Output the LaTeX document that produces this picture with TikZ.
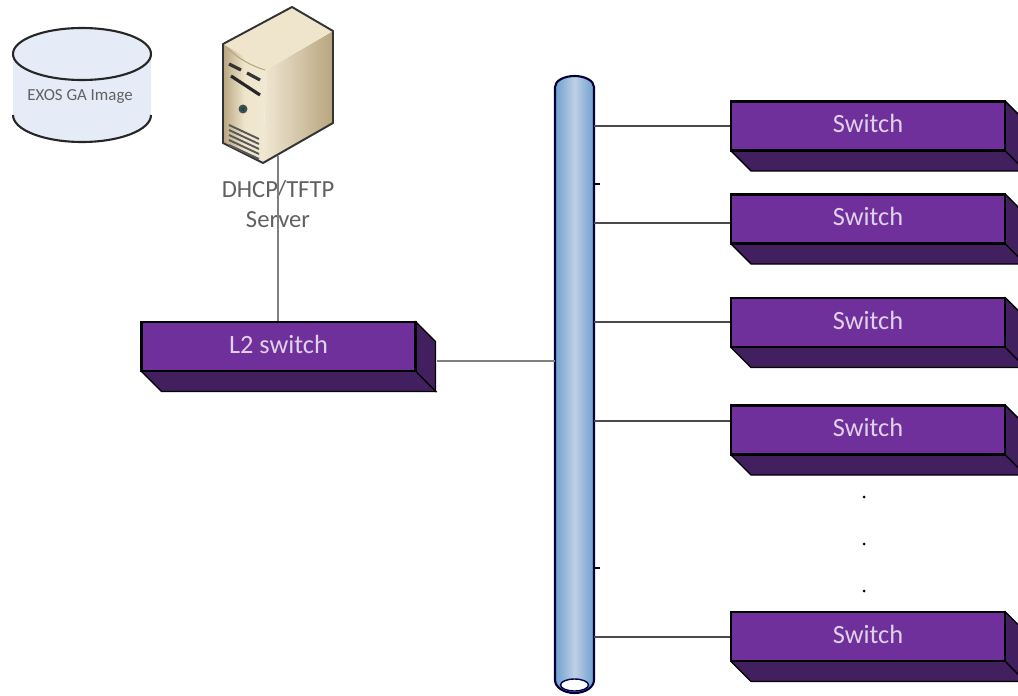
\documentclass[tikz,border=0pt]{standalone}
\usepackage{fontspec}
\setmainfont{Carlito}
\definecolor{swfront}{HTML}{70309B}
\definecolor{swdark}{HTML}{421F5E}
\definecolor{buslight}{HTML}{BFD0E6}
\definecolor{busdark}{HTML}{6E9FCF}
\definecolor{diskfill}{HTML}{E6ECF7}
\definecolor{wire}{HTML}{4A4A4A}
\definecolor{towerlight}{HTML}{F1E8D3}
\definecolor{towertop}{HTML}{EFE5CC}
\definecolor{towerdark}{HTML}{B8A57F}
\tikzset{
    swbox/.style={draw=black, line width=1.2pt, fill=swfront, text=swfront!22!white,
        minimum width=5.48cm, minimum height=0.98cm, inner sep=0pt, font=\fontsize{15}{17}\selectfont},
    swside/.style={draw=black, line width=0.8pt, fill=swdark, line join=round},
    wireline/.style={draw=wire, line width=1.2pt},
    caption/.style={text=black!62, align=center, font=\fontsize{14}{17}\selectfont}
}
% Box with its depth, drawn behind the front face
\newcommand{\swunit}[4]{
    \draw[swside] (#2 - 137, #3 + 25) -- ++(20, 20) -- ++(274, 0) -- ++(0, -50) -- (#2 + 137, #3 - 25) -- cycle;
    \node[swbox] (#1) at (#2, #3) {\raisebox{2.6pt}{#4}};
    \draw[swside] (#1.south east) -- ++(20, 20);
}
\begin{document}
\begin{tikzpicture}[x=0.02cm, y=-0.02cm]

    \clip (0, 0) rectangle (1018, 696);
    \useasboundingbox (0, 0) rectangle (1018, 696);

    % Disk
    \fill[diskfill] (13, 54) -- (13, 115) arc (180:0:69 and 27) -- (151, 54) -- cycle;
    \draw[line width=1.2pt, black!85] (13, 115) arc (180:0:69 and 27);
    \draw[line width=1.2pt, black!85, fill=diskfill] (82, 54) ellipse (69 and 26);
    \node[text=black!62, font=\fontsize{9.6}{11}\selectfont] (disk) at (80, 96) {EXOS GA Image};

    % Server tower
    \shade[left color=towerlight, right color=towerdark]
        (266, 70) -- (333, 31) -- (333, 123) -- (263, 163) -- cycle;
    \fill[towertop] (223, 44) -- (292, 7) -- (333, 31) -- (266, 70) -- cycle;
    \shade[left color=towerdark, right color=towerlight, middle color=towertop]
        (223, 44) -- (266, 70) -- (263, 163) -- (223, 143) -- cycle;
    \draw[line width=1.1pt, black!80, line join=round] (223, 44) -- (292, 7) -- (333, 31) -- (333, 123) -- (263, 163) -- (223, 143) -- cycle;
    \draw[line width=0.6pt, towerdark] (226, 47) .. controls (240, 60) and (252, 66) .. (265, 70);
    % Drive slots
    \draw[line width=1.8pt, black!80] (229, 64) -- (241, 70);
    \draw[line width=1.8pt, black!80] (247, 73) -- (260, 80);
    \draw[line width=1.8pt, black!85] (231, 76) -- (260, 95);
    \fill[black!70] (243, 109) circle (4.5);
    \fill[teal!70!black] (243, 109) circle (2.2);
    % Vent
    \foreach \i in {0, 1, 2, 3, 4}
        \draw[line width=1.1pt, black!65] (229, 125 + 5*\i) -- (259, 139 + 5*\i);
    \coordinate (server) at (278, 156);

    % Server caption
    \node[caption] (srvlabel) at (278, 204) {DHCP/TFTP\\Server};

    % L2 box
    \swunit{ltwo}{278.5}{346.5}{L2 switch}
    \draw[wireline, black!50, line width=1.6pt] (server) -- (server |- ltwo.north);

    % Bus
    \node[minimum width=0.78cm, minimum height=12cm, inner sep=0pt] (bus) at (574.5, 385) {};
    \shade[left color=busdark, right color=busdark, middle color=buslight]
        (555, 87) arc (180:360:19.5 and 11) -- (594, 680) arc (0:180:19.5 and 13) -- cycle;
    \draw[line width=1.2pt, black!70!blue!70!black] (555, 87) arc (180:360:19.5 and 11) -- (594, 680) arc (0:180:19.5 and 13) -- cycle;
    \draw[line width=0.8pt, black!70!blue, fill=white] (574.5, 685) ellipse (14 and 6);

    % Switches
    \swunit{swa}{868}{126}{Switch}
    \swunit{swb}{868}{219}{Switch}
    \swunit{swc}{868}{322.5}{Switch}
    \swunit{swd}{868}{430}{Switch}
    \swunit{swe}{868}{636.5}{Switch}

    % Links to the bus
    \foreach \sw/\ly in {swa/126, swb/223, swc/322, swd/421, swe/637}
        \draw[wireline] (bus.east |- 0, \ly) -- (\sw.west |- 0, \ly);
    \coordinate (ltwoport) at (437, 361);
    \draw[wireline, black!50, line width=1.6pt] (ltwoport) -- (bus.west |- ltwoport);

    % Ticks
    \draw[line width=0.8pt] (594, 184) -- (600, 184);
    \draw[line width=0.8pt] (594, 568) -- (600, 568);

    % Dots
    \foreach \y in {497, 544, 591}
        \fill (864, \y) circle (1.5);

\end{tikzpicture}
\end{document}
